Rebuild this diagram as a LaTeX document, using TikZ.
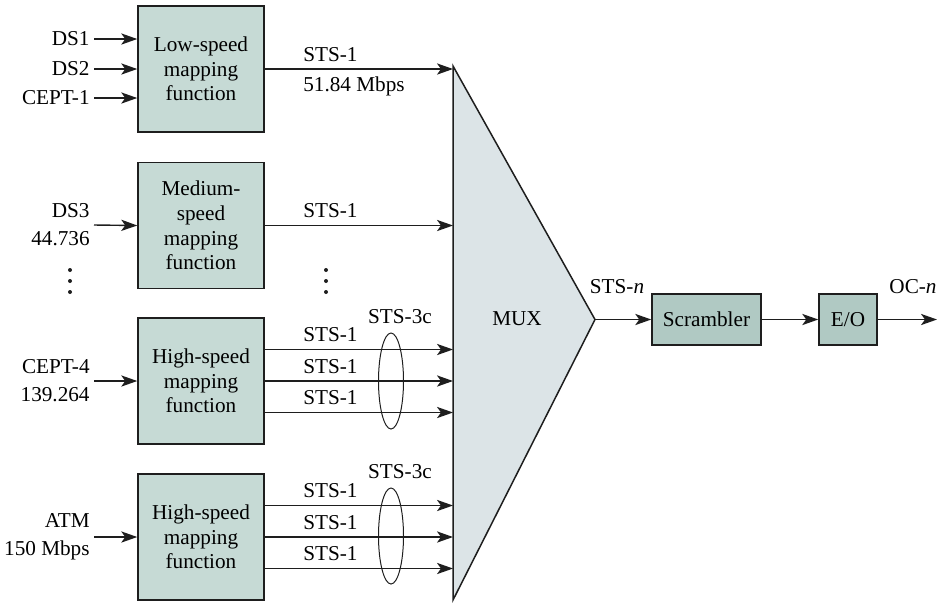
\documentclass[tikz,border=0pt]{standalone}
\usepackage{fontspec}
\setmainfont{Liberation Serif}
\usepackage{tikz}
\usetikzlibrary{shapes.geometric, arrows.meta, positioning, calc}
\definecolor{mapfill}{RGB}{198,218,213}
\definecolor{scrfill}{RGB}{176,201,195}
\definecolor{muxfill}{RGB}{220,228,231}
\definecolor{linegray}{RGB}{30,30,30}

\begin{document}
\begin{tikzpicture}[
    x=0.5pt, y=-0.5pt,
    font=\fontsize{10.6}{12.3}\selectfont,
    mapbox/.style={rectangle, draw=linegray, line width=0.75pt, fill=mapfill, minimum width=63pt, minimum height=63pt, inner sep=0pt, align=center},
    procbox/.style={rectangle, draw=linegray, line width=0.75pt, fill=scrfill, minimum height=25.5pt, inner sep=0pt, align=center},
    inlabel/.style={anchor=east, inner sep=2pt, align=right, font=\fontsize{10.6}{14}\selectfont},
    sig/.style={inner sep=3.5pt},
    arrow/.style={-{Stealth[length=8pt, width=5.6pt, inset=2pt]}, line width=0.7pt, draw=linegray},
    bundle/.style={ellipse, draw=linegray, line width=0.5pt, minimum width=12.5pt, minimum height=48pt, inner sep=0pt}
]
\useasboundingbox (0,0) rectangle (947,602);

% Mapping functions
\node[mapbox] (low) at (201,69) {Low-speed\\mapping\\function};
\node[mapbox] (med) at (201,225.5) {Medium-\\speed\\mapping\\function};
\node[mapbox] (high1) at (201,381) {High-speed\\mapping\\function};
\node[mapbox] (high2) at (201,537) {High-speed\\mapping\\function};

% MUX
\coordinate (muxtop) at (453,66);
\coordinate (muxtip) at (595,319.5);
\coordinate (muxbot) at (453,600);
\draw[linegray, line width=0.75pt, fill=muxfill] (muxtop) -- (muxtip) -- (muxbot) -- cycle;
\node (mux) at (517,319) {MUX};

% Tributary inputs
\node[inlabel] (ds1) at (94,39) {DS1};
\node[inlabel] (ds2) at (94,69) {DS2};
\node[inlabel] (cept1) at (94,98) {CEPT-1};
\node[inlabel] (ds3) at (94,225) {DS3\\44.736};
\node[inlabel] (cept4) at (94,381) {CEPT-4\\139.264};
\node[inlabel] (atm) at (94,537) {ATM\\150 Mbps};

\draw[arrow] (ds1.east) -- (ds1.east -| low.west);
\draw[arrow] (ds2.east) -- (ds2.east -| low.west);
\draw[arrow] (cept1.east) -- (cept1.east -| low.west);
\draw[arrow] (ds3.east) -- (med.west);
\draw[arrow] (cept4.east) -- (high1.west);
\draw[arrow] (atm.east) -- (high2.west);

\foreach \x in {70,326}
  \foreach \y in {270,281,292}
    \fill[linegray] (\x,\y) circle (1pt);

% STS-1 outputs
\draw[arrow] (low.east) -- (low.east -| muxtop)
  node[pos=0.164, sig, anchor=south west] {STS-1}
  node[pos=0.164, sig, anchor=north west] {51.84 Mbps};
\draw[arrow] (med.east) -- (med.east -| muxtop)
  node[pos=0.164, sig, anchor=south west] {STS-1};

\foreach \blk in {high1,high2}{
  \foreach \dy in {-31.5,0,31.5}{
    \coordinate (s) at ($(\blk.east)+(0,\dy)$);
    \draw[arrow] (s) -- (s -| muxtop) node[pos=0.164, sig, anchor=south west] {STS-1};
  }
}

% STS-3c bundles
\node[bundle] (bun1) at (391,381) {};
\node[bundle] (bun2) at (391,536) {};
\node (sts3c1) at (400,317) {STS-3c};
\node (sts3c2) at (400,472) {STS-3c};

% Line side
\node[procbox, minimum width=54.5pt] (scr) at (706.5,319.5) {Scrambler};
\node[procbox, minimum width=29pt] (eo) at (848,319.5) {E/O};
\coordinate (ocout) at (937,319.5);

\draw[arrow] (muxtip) -- (scr.west);
\draw[arrow] (scr) -- (eo);
\draw[arrow] (eo) -- (ocout);

\node (stsn) at (617,287) {STS-\textit{n}};
\node (ocn) at (913,287) {OC-\textit{n}};

\end{tikzpicture}
\end{document}
